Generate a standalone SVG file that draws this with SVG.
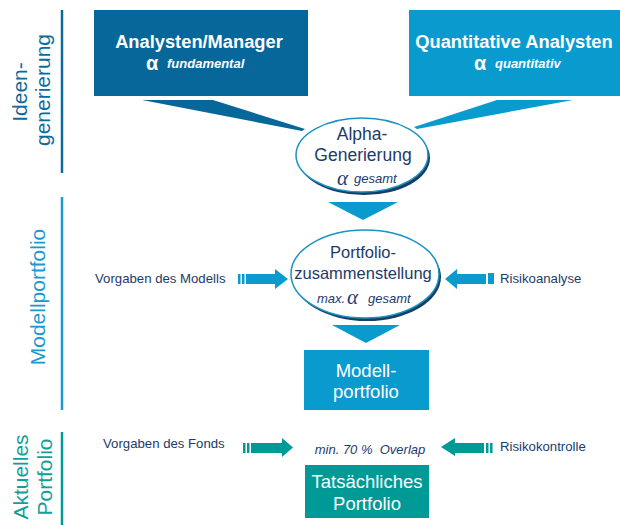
<svg xmlns="http://www.w3.org/2000/svg" width="620" height="525" viewBox="0 0 620 525">
<style>
.sans{font-family:"Liberation Sans",Arial,sans-serif}
.nav{fill:#1d3b6a}
.wt{fill:#ffffff}
.ttl{font-family:"Liberation Sans",Arial,sans-serif;font-weight:bold;font-size:18.3px;fill:#fff;text-anchor:middle}
.sub{font-family:"Liberation Sans",Arial,sans-serif;font-weight:bold;font-style:italic;font-size:13px;fill:#fff}
.alb{font-family:"Liberation Sans",Arial,sans-serif;font-weight:bold;font-size:20px;fill:#fff}
.ali{font-family:"Liberation Serif","Times New Roman",serif;font-style:italic;font-size:21px;fill:#1d3b6a}
.it{font-family:"Liberation Sans",Arial,sans-serif;font-style:italic;font-size:13px;fill:#1d3b6a}
.lbl{font-family:"Liberation Sans",Arial,sans-serif;font-size:13.2px;fill:#1d3b6a}
.side{font-family:"Liberation Sans",Arial,sans-serif;font-size:21px;text-anchor:middle}
.ell{fill:#fff;stroke:#1a92c4;stroke-width:1.5}
.shd{fill:#163f66}
.b1{fill:#07679b}
.b2{fill:#0a9bce}
.tl{fill:#009a96}
</style>

<g id="phase-ideen">
<line x1="62" y1="10" x2="62" y2="173" stroke="#0c6a9c" stroke-width="2.5"/>
<text class="side" fill="#0c6a9c" transform="translate(27,92) rotate(-90)">Ideen-</text>
<text class="side" fill="#0c6a9c" transform="translate(50,90) rotate(-90)">generierung</text>
</g>

<g id="phase-modell">
<line x1="62" y1="197" x2="62" y2="410" stroke="#1a9ad0" stroke-width="2.5"/>
<text class="side" fill="#1a9ad0" transform="translate(45,297) rotate(-90)">Modellportfolio</text>
</g>

<g id="phase-aktuell">
<line x1="62" y1="432" x2="62" y2="525" stroke="#009a96" stroke-width="2.5"/>
<text class="side" fill="#10a09a" transform="translate(28,477) rotate(-90)">Aktuelles</text>
<text class="side" fill="#10a09a" transform="translate(52,477) rotate(-90)">Portfolio</text>
</g>

<g id="connectors">
<polygon class="b1" points="142,100 213,100 305,129 302,131"/>
<polygon class="b2" points="497,100 573,100 417,129 414,127"/>
<polygon class="b2" points="328,202 398,202 363,220"/>
<polygon class="b2" points="332,325 400,325 366,343"/>
<g class="b2">
<rect x="238" y="274" width="2.5" height="10"/>
<rect x="242" y="274" width="2.5" height="10"/>
<rect x="246" y="274" width="30" height="10"/>
<polygon points="275,269 288,279 275,289"/>
</g>
<g class="b2">
<polygon points="457,269 445,279 457,289"/>
<rect x="456" y="274" width="30" height="10"/>
<rect x="488" y="273" width="6" height="11"/>
</g>
<g class="tl">
<rect x="243" y="443" width="2.5" height="10"/>
<rect x="247" y="443" width="2.5" height="10"/>
<rect x="251" y="443" width="32" height="10"/>
<polygon points="282,438 293,447.5 282,457"/>
</g>
<g class="tl">
<polygon points="455,438 441,447 455,456"/>
<rect x="454" y="443" width="30" height="10"/>
<rect x="486" y="443" width="2.5" height="10"/>
<rect x="490" y="443" width="2.5" height="10"/>
</g>
</g>

<g id="analysten-manager">
<rect class="b1" x="94" y="10" width="214" height="86"/>
<text class="ttl" x="199" y="48">Analysten/Manager</text>
<text class="alb" x="146" y="70">α</text>
<text class="sub" x="167" y="68">fundamental</text>
</g>

<g id="quantitative-analysten">
<rect class="b2" x="409" y="10" width="211" height="86"/>
<text class="ttl" x="514" y="48">Quantitative Analysten</text>
<text class="alb" x="474" y="70">α</text>
<text class="sub" x="495" y="68">quantitativ</text>
</g>

<g id="alpha-generierung">
<ellipse class="shd" cx="364" cy="158" rx="66" ry="37"/>
<ellipse class="ell" cx="362" cy="155" rx="66" ry="37"/>
<text class="sans nav" x="362" y="140" font-size="17.5" text-anchor="middle">Alpha-</text>
<text class="sans nav" x="363" y="161" font-size="17.5" text-anchor="middle">Generierung</text>
<text class="ali" x="337" y="185">α</text>
<text class="it" x="354" y="183">gesamt</text>
</g>

<g id="portfolio-zusammenstellung">
<ellipse class="shd" cx="367" cy="277" rx="74" ry="44"/>
<ellipse class="ell" cx="365" cy="274" rx="74" ry="44"/>
<text class="sans nav" x="363" y="258" font-size="16.5" text-anchor="middle">Portfolio-</text>
<text class="sans nav" x="363" y="279" font-size="16.5" text-anchor="middle">zusammenstellung</text>
<text class="it" x="317" y="303">max.</text>
<text class="ali" x="347" y="304">α</text>
<text class="it" x="368" y="303">gesamt</text>
</g>

<g id="modellportfolio">
<rect class="b2" x="304" y="350" width="125" height="60"/>
<text class="sans wt" x="366" y="377" font-size="18.5" text-anchor="middle">Modell-</text>
<text class="sans wt" x="366" y="398" font-size="18.5" text-anchor="middle">portfolio</text>
</g>

<g id="tatsaechliches-portfolio">
<rect class="tl" x="305" y="465" width="124" height="53"/>
<text class="sans wt" x="367" y="488" font-size="18.5" text-anchor="middle">Tatsächliches</text>
<text class="sans wt" x="367" y="510" font-size="18.5" text-anchor="middle">Portfolio</text>
</g>

<g id="labels">
<text class="lbl" x="95" y="283">Vorgaben des Modells</text>
<text class="lbl" x="500" y="283">Risikoanalyse</text>
<text class="lbl" x="103" y="448">Vorgaben des Fonds</text>
<text class="lbl" x="500" y="451">Risikokontrolle</text>
<text class="it" x="370" y="454" text-anchor="middle" xml:space="preserve">min. 70 %  Overlap</text>
</g>
</svg>
